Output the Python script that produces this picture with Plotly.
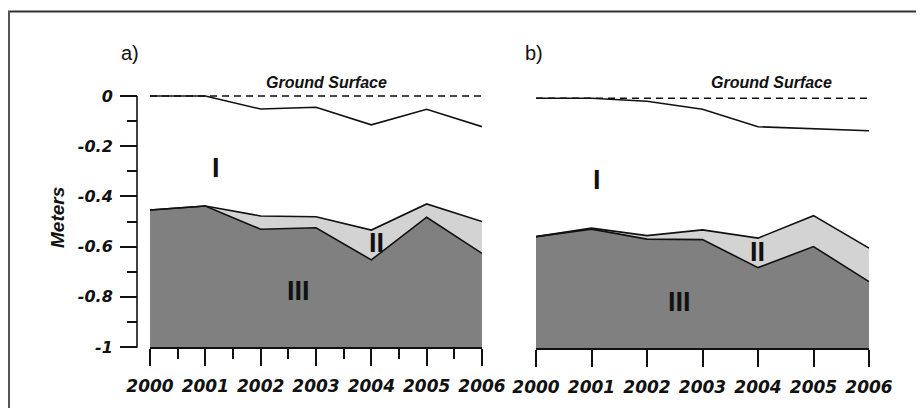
import plotly.graph_objects as go

# ---------------- data ----------------
years = [2000, 2001, 2002, 2003, 2004, 2005, 2006]
x_tick_text = ["2000", "2001", "2002", "2003", "2004", "2005", "2006"]

a_surface = [0, 0, -0.052, -0.045, -0.115, -0.053, -0.122]
a_zone2_top = [-0.454, -0.438, -0.478, -0.481, -0.534, -0.430, -0.500]
a_zone3_top = [-0.454, -0.438, -0.531, -0.525, -0.653, -0.483, -0.627]

b_surface = [0, 0, -0.012, -0.044, -0.114, -0.123, -0.130]
b_zone2_top = [-0.554, -0.520, -0.550, -0.527, -0.560, -0.470, -0.600]
b_zone3_top = [-0.554, -0.524, -0.564, -0.566, -0.678, -0.594, -0.734]

axis_bottom = -1
ground_level = 0
y_tick_vals = [0, -0.2, -0.4, -0.6, -0.8, -1]
y_tick_text = ["0", "-0.2", "-0.4", "-0.6", "-0.8", "-1"]
y_minor_vals = [-0.1, -0.3, -0.5, -0.7, -0.9]
zone_labels = ["I", "II", "III"]
panel_labels = ["a)", "b)"]
ground_label = "Ground Surface"
y_title = "Meters"

# ---------------- style ----------------
PAGE_W, PAGE_H = 924, 408
BODY = 8  # default page body margin
W, H = PAGE_W - BODY, PAGE_H - BODY
DARK = "#808080"
LIGHT = "#d3d3d3"
INK = "#111111"
BOLD_IT = dict(family="Liberation Sans", weight="bold", style="italic", color=INK)
XTICK_FONT = dict(family="DejaVu Sans", size=17, weight="bold", style="italic", color=INK)
YTICK_FONT = dict(family="DejaVu Sans", size=16, weight="bold", style="italic", color=INK)


def px(x):
    """page pixel x -> paper fraction"""
    return (x - BODY) / W


def py(y):
    """page pixel y -> paper fraction"""
    return 1 - (y - BODY) / H


fig = go.Figure()

panels = [
    dict(xa="x", ya="y", surf=a_surface, z2=a_zone2_top, z3=a_zone3_top),
    dict(xa="x2", ya="y2", surf=b_surface, z2=b_zone2_top, z3=b_zone3_top),
]

for p in panels:
    common = dict(xaxis=p["xa"], yaxis=p["ya"], showlegend=False, hoverinfo="skip")
    fig.add_trace(go.Scatter(x=years, y=[axis_bottom] * len(years), mode="lines",
                             line=dict(width=0, color=DARK), **common))
    fig.add_trace(go.Scatter(x=years, y=p["z3"], mode="lines", fill="tonexty",
                             fillcolor=DARK, line=dict(width=0, color=DARK), **common))
    fig.add_trace(go.Scatter(x=years, y=p["z2"], mode="lines", fill="tonexty",
                             fillcolor=LIGHT, line=dict(width=0, color=LIGHT), **common))
    fig.add_trace(go.Scatter(x=years, y=p["z3"], mode="lines",
                             line=dict(width=1.6, color=INK), **common))
    fig.add_trace(go.Scatter(x=years, y=p["z2"], mode="lines",
                             line=dict(width=1.6, color=INK), **common))
    fig.add_trace(go.Scatter(x=[years[0], years[-1]], y=[ground_level, ground_level],
                             mode="lines", line=dict(width=1.4, color=INK, dash="7px,5px"),
                             **common))
    fig.add_trace(go.Scatter(x=years, y=p["surf"], mode="lines",
                             line=dict(width=1.6, color=INK), **common))

xaxis_common = dict(
    range=[years[0], years[-1]], tickmode="array", tickvals=years, ticktext=x_tick_text,
    ticks="outside", ticklen=17, tickwidth=1.6, tickcolor=INK,
    showline=True, linecolor=INK, linewidth=1.6, showgrid=False, zeroline=False,
    tickfont=XTICK_FONT, ticklabelstandoff=6, automargin=False,
)

fig.update_layout(
    width=W, height=H,
    autosize=False,
    margin=dict(l=0, r=0, t=0, b=0, pad=0, autoexpand=False),
    paper_bgcolor="white", plot_bgcolor="rgba(0,0,0,0)",
    xaxis=dict(domain=[px(150), px(482)], anchor="y",
               minor=dict(ticks="outside", ticklen=10, tickwidth=1.6, tickcolor=INK,
                          tickmode="array", tickvals=[y + 0.5 for y in years[:-1]],
                          showgrid=False),
               **xaxis_common),
    xaxis2=dict(domain=[px(536), px(869)], anchor="y2", **xaxis_common),
    yaxis=dict(domain=[py(347), py(93.5)], range=[-1, 0.01], anchor="free", position=px(137),
               tickmode="array", tickvals=y_tick_vals, ticktext=y_tick_text,
               ticks="outside", ticklen=17, tickwidth=1.6, tickcolor=INK,
               minor=dict(ticks="outside", ticklen=10, tickwidth=1.6, tickcolor=INK,
                          tickmode="array", tickvals=y_minor_vals, showgrid=False),
               showline=False, showgrid=False, zeroline=False, automargin=False,
               tickfont=YTICK_FONT, ticklabelstandoff=4),
    yaxis2=dict(domain=[py(348), py(95.8)], range=[-1, 0.01], anchor="x2",
                visible=False, showgrid=False, zeroline=False, automargin=False),
)

# y-axis line and outer frame
fig.add_shape(type="line", xref="paper", yref="paper", x0=px(137), x1=px(137),
              y0=py(96), y1=py(347.8), line=dict(color=INK, width=1.6))
fig.add_shape(type="line", xref="paper", yref="paper", x0=px(8), x1=1,
              y0=py(11.5), y1=py(11.5), line=dict(color="#333333", width=2))
fig.add_shape(type="line", xref="paper", yref="paper", x0=px(9), x1=px(9),
              y0=py(11), y1=0, line=dict(color="#555555", width=2))

ann = []


def add_text(text, x, y, font, **kw):
    ann.append(dict(text=text, x=px(x), y=py(y), xref="paper", yref="paper",
                    xanchor="center", yanchor="middle", showarrow=False, font=font, **kw))


add_text(panel_labels[0], 130, 53, dict(family="Liberation Sans", size=20, color=INK))
add_text(panel_labels[1], 534, 53, dict(family="Liberation Sans", size=20, color=INK))
add_text(ground_label, 326, 82, dict(size=16, **BOLD_IT))
add_text(ground_label, 771, 82, dict(size=16, **BOLD_IT))
add_text(y_title, 57, 218, dict(size=19, **BOLD_IT), textangle=-90)

roman_font = dict(family="Liberation Sans", size=27, weight="bold", color=INK)
add_text(zone_labels[0], 216, 168, roman_font)
add_text(zone_labels[1], 376, 243, roman_font)
add_text(zone_labels[2], 298, 291, roman_font)
add_text(zone_labels[0], 597, 180, roman_font)
add_text(zone_labels[1], 757, 252, roman_font)
add_text(zone_labels[2], 679, 302, roman_font)

fig.update_layout(annotations=ann)

fig.write_html("out.html")
